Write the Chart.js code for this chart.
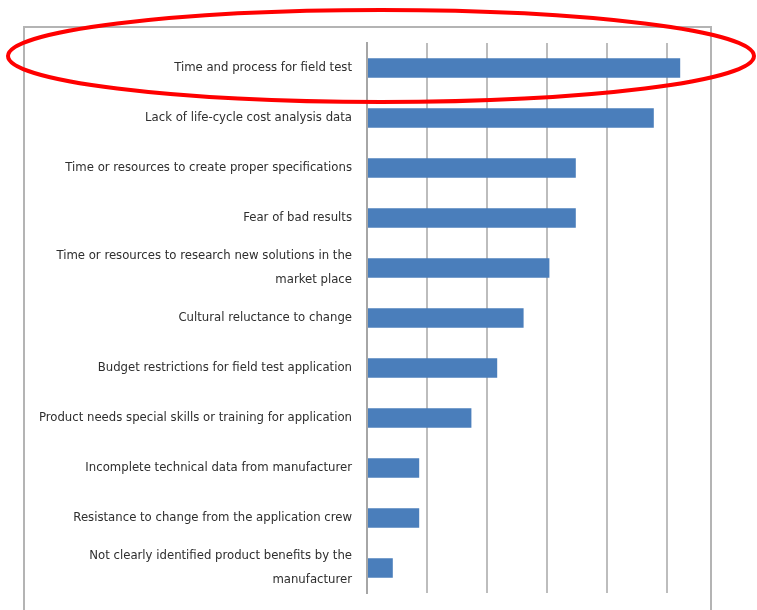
<!DOCTYPE html>
<html>
<head>
<meta charset="utf-8">
<script src="https://cdn.jsdelivr.net/npm/chart.js@4"></script>
<style>
  html, body { margin: 0; padding: 0; background: #fff; }
  #wrap { position: relative; width: 757px; height: 610px; overflow: hidden; }
  #frame { position: absolute; left: 23px; top: 26px; width: 689px; height: 600px; border: 2px solid #b4b4b4; box-sizing: border-box; }
  #chart { position: absolute; left: 0; top: 0; }
</style>
</head>
<body>
<div id="wrap">
  <div id="frame"></div>
  <canvas id="chart" width="757" height="610"></canvas>
</div>
<script>
// Reasons (top to bottom) and share of responses (%)
const labels = [
    'Time and process for field test',
    'Lack of life-cycle cost analysis data',
    'Time or resources to create proper specifications',
    'Fear of bad results',
    ['Time or resources to research new solutions in the', 'market place'],
    'Cultural reluctance to change',
    'Budget restrictions for field test application',
    'Product needs special skills or training for application',
    'Incomplete technical data from manufacturer',
    'Resistance to change from the application crew',
    ['Not clearly identified product benefits by the', 'manufacturer']
];
const values = [52.2, 47.8, 34.8, 34.8, 30.4, 26.1, 21.7, 17.4, 8.7, 8.7, 4.3];
const gridTicks = [0, 10, 20, 30, 40, 50];

// Red hand-drawn ellipse around the first row
const highlightPlugin = {
    id: 'highlight',
    afterDraw: function(chart) {
        const ctx = chart.ctx;
        const y = chart.scales.y.getPixelForValue(0) - 12;
        ctx.save();
        ctx.strokeStyle = '#ff0000';
        ctx.lineWidth = 4;
        ctx.beginPath();
        ctx.ellipse(381, y, 373, 46, 0, 0, Math.PI * 2);
        ctx.stroke();
        ctx.restore();
    }
};

const ctx = document.getElementById('chart');
new Chart(ctx, {
    type: 'bar',
    data: {
        labels: labels,
        datasets: [{
            data: values,
            backgroundColor: '#4a7ebb',
            borderWidth: 0,
            barPercentage: 0.78,
            categoryPercentage: 0.5
        }]
    },
    options: {
        indexAxis: 'y',
        responsive: false,
        animation: false,
        layout: { padding: { left: 0, top: 43, right: 48, bottom: 17 } },
        plugins: { legend: { display: false }, tooltip: { enabled: false } },
        scales: {
            x: {
                min: 0,
                max: 57,
                afterBuildTicks: function(scale) {
                    scale.ticks = gridTicks.map(v => ({ value: v }));
                },
                afterFit: function(scale) { scale.height = 0; },
                ticks: { display: false },
                grid: { color: '#bdbdbd', lineWidth: 2, drawTicks: false },
                border: { display: false }
            },
            y: {
                afterFit: function(scale) {
                    scale.width = 367;
                    scale.paddingTop = 0;
                    scale.paddingBottom = 0;
                },
                grid: { display: false, drawTicks: false },
                border: { display: true, color: '#a6a6a6', width: 2 },
                ticks: {
                    autoSkip: false,
                    padding: 15,
                    color: '#2e2e2e',
                    font: { family: '"DejaVu Sans Condensed", "Liberation Sans", sans-serif', size: 13, lineHeight: 1.85 }
                }
            }
        }
    },
    plugins: [highlightPlugin]
});
</script>
</body>
</html>
